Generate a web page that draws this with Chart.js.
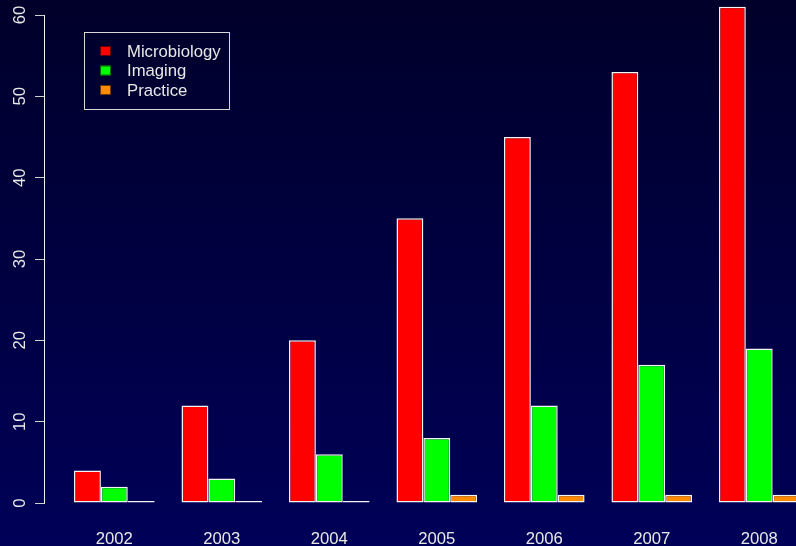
<!DOCTYPE html>
<html>
<head>
<meta charset="utf-8">
<script src="https://cdn.jsdelivr.net/npm/chart.js@4/dist/chart.umd.min.js"></script>
<style>
  html, body { margin: 0; padding: 0; background: #000030; }
  #wrap { width: 796px; height: 546px; position: relative; }
</style>
</head>
<body>
<div id="wrap"><canvas id="barChart"></canvas></div>
<script>
const years = [2002, 2003, 2004, 2005, 2006, 2007, 2008];
const microbiology = [4, 12, 20, 35, 45, 53, 61];
const imaging = [2, 3, 6, 8, 12, 17, 19];
const practice = [0, 0, 0, 1, 1, 1, 1];
const seriesNames = ['Microbiology', 'Imaging', 'Practice'];
const seriesColors = ['#ff0000', '#00ff00', '#ff8c00'];

const textColor = '#e8e8e8';
const fontFamily = '"Liberation Sans", Arial, sans-serif';

// gradient background behind everything
const backgroundPlugin = {
    id: 'bg',
    beforeDraw(chart) {
        const ctx = chart.ctx;
        const g = ctx.createLinearGradient(0, 0, 0, chart.height);
        g.addColorStop(0, '#00002a');
        g.addColorStop(1, '#000058');
        ctx.save();
        ctx.fillStyle = g;
        ctx.fillRect(0, 0, chart.width, chart.height);
        ctx.restore();
    }
};

// y axis line only spans first to last tick, like R
const axisLinePlugin = {
    id: 'axisLine',
    afterDraw(chart) {
        const y = chart.scales.y;
        const ticks = y.ticks;
        const ctx = chart.ctx;
        ctx.save();
        ctx.strokeStyle = '#f0f0f0';
        ctx.lineWidth = 1;
        ctx.beginPath();
        ctx.moveTo(y.right - 0.5, y.getPixelForValue(ticks[0].value));
        ctx.lineTo(y.right - 0.5, y.getPixelForValue(ticks[ticks.length - 1].value));
        ctx.stroke();
        ctx.restore();
    }
};

// boxed legend in the top-left corner
const boxLegendPlugin = {
    id: 'boxLegend',
    afterDraw(chart) {
        const ctx = chart.ctx;
        ctx.save();
        ctx.strokeStyle = '#d8d8d8';
        ctx.lineWidth = 1;
        ctx.strokeRect(84.5, 32.5, 145, 77);
        ctx.font = '16.7px ' + fontFamily;
        ctx.textBaseline = 'middle';
        chart.data.datasets.forEach((ds, i) => {
            const cy = 51 + i * 19.5;
            ctx.fillStyle = ds.backgroundColor;
            ctx.fillRect(100, cy - 5, 11, 10);
            ctx.strokeStyle = 'rgba(0,0,0,0.6)';
            ctx.strokeRect(100.5, cy - 4.5, 10, 9);
            ctx.fillStyle = textColor;
            ctx.fillText(ds.label, 127, cy + 1);
        });
        ctx.restore();
    }
};

const allSeries = [microbiology, imaging, practice];

new Chart(document.getElementById('barChart').getContext('2d'), {
    type: 'bar',
    data: {
        datasets: allSeries.map((values, i) => ({
            label: seriesNames[i],
            data: values.map((v, k) => ({ x: years[k], y: v })),
            backgroundColor: seriesColors[i],
            borderColor: '#f4f4f4',
            borderWidth: 1.5,
            borderSkipped: false,
            minBarLength: 2,
            categoryPercentage: 0.75,
            barPercentage: 1
        }))
    },
    options: {
        responsive: true,
        maintainAspectRatio: false,
        animation: false,
        layout: { padding: 0 },
        plugins: {
            legend: { display: false },
            tooltip: { enabled: false }
        },
        scales: {
            x: {
                type: 'linear',
                offset: false,
                min: 2001.355,
                max: 2008.342,
                afterFit: scale => {
                    scale.height = 43;
                    scale.paddingLeft = 0;
                    scale.paddingRight = 0;
                },
                grid: { display: false, drawTicks: false },
                border: { display: false },
                ticks: {
                    stepSize: 1,
                    includeBounds: false,
                    padding: 26,
                    color: textColor,
                    font: { family: fontFamily, size: 16.7 },
                    callback: v => String(v)
                }
            },
            y: {
                min: 0,
                max: 61.845,
                afterFit: scale => {
                    scale.width = 45;
                    scale.paddingTop = 0;
                    scale.paddingBottom = 0;
                },
                grid: {
                    drawOnChartArea: false,
                    drawTicks: true,
                    tickLength: 10,
                    color: '#d0d0d0'
                },
                border: { display: false },
                ticks: {
                    stepSize: 10,
                    includeBounds: false,
                    minRotation: 90,
                    maxRotation: 90,
                    crossAlign: 'center',
                    padding: 5,
                    color: textColor,
                    font: { family: fontFamily, size: 16.7 }
                }
            }
        }
    },
    plugins: [backgroundPlugin, axisLinePlugin, boxLegendPlugin]
});
</script>
</body>
</html>
